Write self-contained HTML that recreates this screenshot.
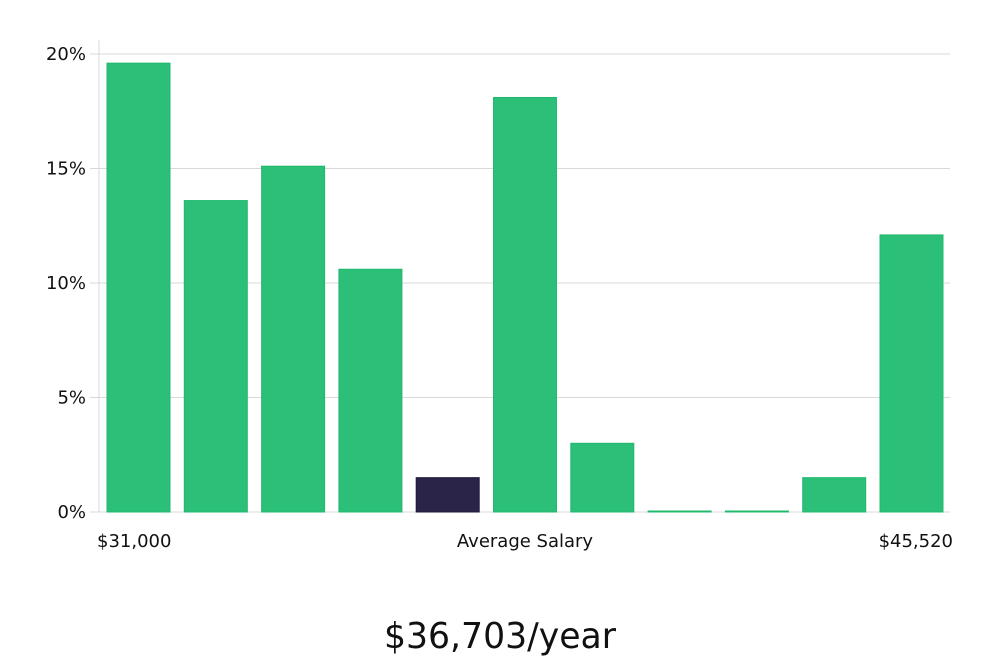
<!DOCTYPE html>
<html><head><meta charset="utf-8"><style>
body{margin:0;background:#fff;width:1000px;height:660px;overflow:hidden;font-family:"DejaVu Sans","Liberation Sans",sans-serif;}
</style></head><body>
<svg id="chart" width="1000" height="660" xmlns="http://www.w3.org/2000/svg">
<g id="grid"></g>
<g id="bars"></g>
<g id="yaxis"></g>
<text x="97" y="547" font-size="18" fill="#111">$31,000</text>
<text x="525" y="547" font-size="18" fill="#111" text-anchor="middle">Average Salary</text>
<text x="953" y="547" font-size="18" fill="#111" text-anchor="end">$45,520</text>
<text x="500" y="648" font-size="36" fill="#111" text-anchor="middle" font-family="'DejaVu Sans Condensed','Liberation Sans',sans-serif" textLength="232" lengthAdjust="spacingAndGlyphs">$36,703/year</text>
</svg>
<script>
const values=[19.6,13.6,15.1,10.6,1.5,18.1,3.0,0,0,1.5,12.1];
const highlight=[false,false,false,false,true,false,false,false,false,false,false];
const ticks=[0,5,10,15,20];
const tickLabels=["0%","5%","10%","15%","20%"];
const NS="http://www.w3.org/2000/svg";
const y0=512,yTop=54,left=99,right=950;
function y(v){return y0-(v/20)*(y0-yTop);}
function x(i){return 107+i*77.3;}
const grid=document.getElementById('grid'),yax=document.getElementById('yaxis'),bars=document.getElementById('bars');
ticks.forEach((t,i)=>{
 const l=document.createElementNS(NS,'line');
 
 
 l.setAttribute('x1',90);l.setAttribute('x2',right);l.setAttribute('y1',y(t));l.setAttribute('y2',y(t));
 l.setAttribute('stroke','#d9d9d9');l.setAttribute('stroke-width','1');grid.appendChild(l);
 const tx=document.createElementNS(NS,'text');
 
 
 tx.setAttribute('x',86);tx.setAttribute('y',y(t)+6);tx.setAttribute('text-anchor','end');
 tx.setAttribute('font-size','18');tx.setAttribute('fill','#111');tx.textContent=tickLabels[i];yax.appendChild(tx);
});
const ax=document.createElementNS(NS,'line');


ax.setAttribute('x1',left);ax.setAttribute('x2',left);ax.setAttribute('y1',40);ax.setAttribute('y2',y0);
ax.setAttribute('stroke','#d9d9d9');yax.appendChild(ax);
values.forEach((v,i)=>{
 const r=document.createElementNS(NS,'rect');
 
 
 const top=y(v),h=Math.max(1,y0-top);
 r.setAttribute('x',x(i));r.setAttribute('y',y0-h);r.setAttribute('width',63);r.setAttribute('height',h);
 r.setAttribute('fill',highlight[i]?'#2a2548':'#2bbf78');
 r.setAttribute('stroke',highlight[i]?'#1f1a3d':'#22b86e');r.setAttribute('stroke-width','1');
 bars.appendChild(r);
});
</script>
</body></html>
